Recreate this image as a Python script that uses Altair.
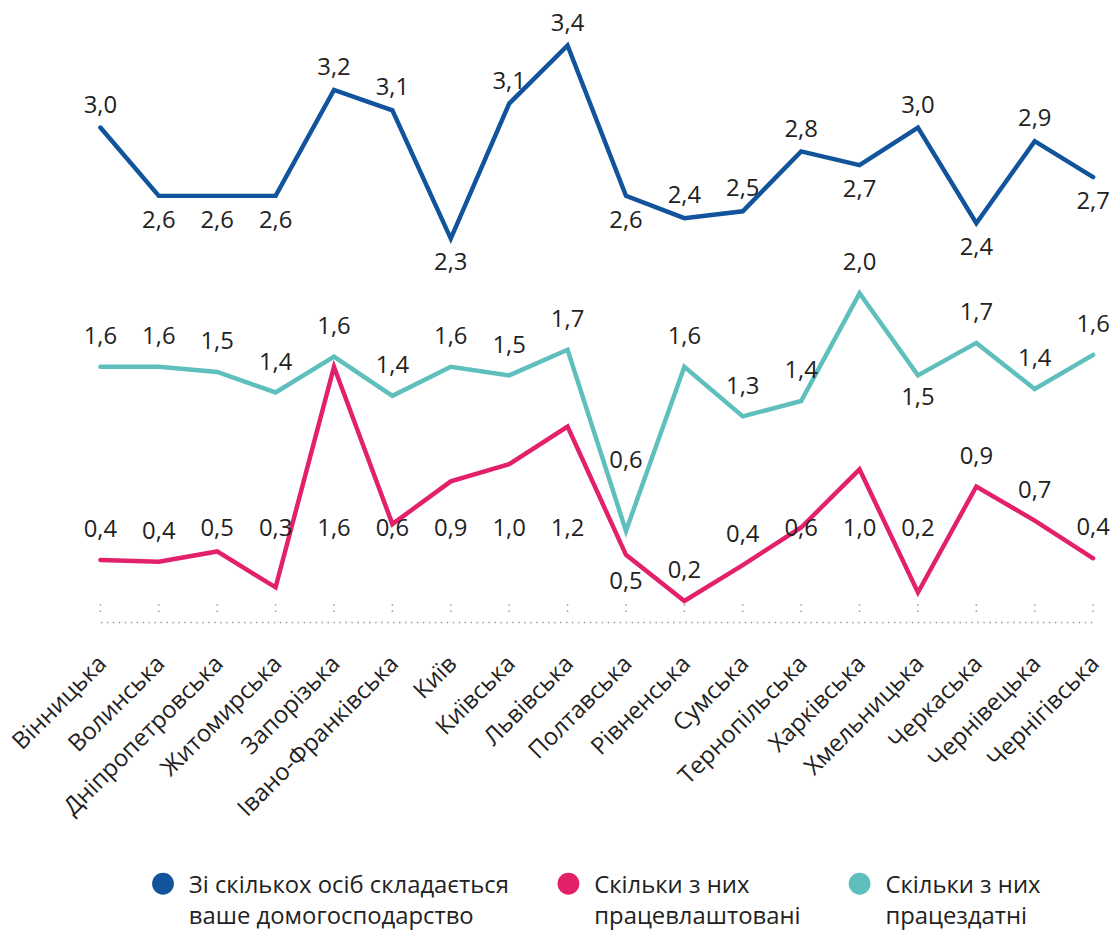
import altair as alt
import pandas as pd

regions = ["Вінницька", "Волинська", "Дніпропетровська", "Житомирська", "Запорізька",
           "Івано-Франківська", "Київ", "Київська", "Львівська", "Полтавська",
           "Рівненська", "Сумська", "Тернопільська", "Харківська", "Хмельницька",
           "Черкаська", "Чернівецька", "Чернігівська"]

series = ["Зі скількох осіб складається\nваше домогосподарство",
          "Скільки з них\nпрацевлаштовані",
          "Скільки з них\nпрацездатні"]
colors = ["#11549B", "#E3216B", "#5EBFBD"]

household = [2.96, 2.56, 2.56, 2.56, 3.18, 3.06, 2.31, 3.10, 3.44, 2.56,
             2.43, 2.47, 2.82, 2.74, 2.96, 2.40, 2.88, 2.67]
employed = [0.43, 0.42, 0.48, 0.27, 1.56, 0.64, 0.89, 0.99, 1.21, 0.46,
            0.19, 0.40, 0.62, 0.96, 0.24, 0.86, 0.66, 0.44]
able = [1.56, 1.56, 1.53, 1.41, 1.62, 1.39, 1.56, 1.51, 1.66, 0.60,
        1.56, 1.27, 1.36, 1.99, 1.51, 1.70, 1.43, 1.63]

# label placement: a = above, b = below, A = far above, r = on the shared label row
household_pos = ["a", "b", "b", "b", "a", "a", "b", "a", "a", "b",
                 "a", "a", "a", "b", "a", "b", "a", "b"]
employed_pos = ["a", "a", "r", "r", "r", "r", "r", "r", "r", "b",
                "a", "a", "r", "r", "r", "a", "a", "a"]
able_pos = ["a", "a", "a", "a", "a", "a", "a", "a", "a", "A",
            "a", "a", "a", "a", "b", "a", "a", "a"]

LABEL_OFFSETS = [
    {"a": -22, "b": 25},
    {"a": -30, "b": 27, "r": 0},
    {"a": -30, "b": 23, "A": -70},
]
LABEL_ROW = 0.61

rows = []
for si, (vals, poss) in enumerate([(household, household_pos),
                                   (employed, employed_pos),
                                   (able, able_pos)]):
    for i, (r, v, p) in enumerate(zip(regions, vals, poss)):
        rows.append({"region": r, "idx": i, "series": series[si], "value": v,
                     "label_y": LABEL_ROW if p == "r" else v,
                     "dy": LABEL_OFFSETS[si][p]})
df = pd.DataFrame(rows)

FONT = "Open Sans"
TXT = "#222222"
FS = 24
yscale = alt.Scale(domain=[0.067, 3.613], zero=False, nice=False)

xenc = alt.X("region:N", sort=regions,
             scale=alt.Scale(type="point", domain=regions, padding=0),
             axis=alt.Axis(title=None, labelAngle=-45, labelAlign="right",
                           labelBaseline="middle", labelFontSize=FS, labelFont=FONT,
                           labelColor=TXT, labelPadding=38, ticks=False, tickSize=0,
                           grid=False, labelOverlap=False, labelLimit=500,
                           domainColor="#9a9a9a", domainDash=[1.5, 4.5],
                           domainWidth=1.5, labelOffset=2))

ticks = alt.Chart(pd.DataFrame({"region": regions})).mark_rule(
    color="#9a9a9a", strokeWidth=1.5, strokeDash=[1.5, 5]
).encode(x=xenc, y=alt.value(592), y2=alt.value(605))

# stroke scale: data-driven domain (sorted order equals the series order)
lines = alt.Chart(df).mark_line(strokeWidth=4.5, strokeJoin="miter", strokeCap="round").encode(
    x=xenc,
    y=alt.Y("value:Q", scale=yscale, axis=None),
    stroke=alt.Stroke("series:N", scale=alt.Scale(range=colors), legend=None),
    order=alt.Order("idx:Q"),
)

texts = []
for d in sorted(df["dy"].unique()):
    texts.append(
        alt.Chart(df).transform_filter(f"datum.dy == {int(d)}").transform_calculate(
            txt="replace(format(datum.value, '.1f'), '.', ',')"
        ).mark_text(dy=int(d), fontSize=FS, font=FONT, color=TXT).encode(
            x=xenc,
            y=alt.Y("label_y:Q", scale=yscale, axis=None),
            text="txt:N",
        )
    )

shift = 0.85
circle_path = f"M-1,{shift}A1,1,0,1,1,1,{shift}A1,1,0,1,1,-1,{shift}Z"
legend_pts = alt.Chart(df).transform_filter("false").mark_point(filled=True, opacity=1).encode(
    x=xenc,
    y=alt.Y("value:Q", scale=yscale, axis=None),
    fill=alt.Fill("series:N", scale=alt.Scale(domain=series, range=colors), legend=alt.Legend(
        title=None, orient="none", legendX=51, legendY=852, direction="horizontal",
        labelExpr="split(datum.label, '\\n')", labelFontSize=24, labelFont=FONT,
        labelColor=TXT, symbolType=circle_path, symbolSize=484, symbolStrokeWidth=0,
        labelOffset=14, columnPadding=47, labelLimit=600, labelBaseline="top",
        padding=0, symbolOpacity=1)),
)

chart = alt.layer(ticks, lines, *texts, legend_pts).properties(
    width=999, height=610,
    autosize=alt.AutoSizeParams(type="none"),
    padding={"left": 93, "top": 5, "right": 19, "bottom": 307},
).configure(
    font=FONT, style={"guide-label": {"lineHeight": 31}},
    view=alt.ViewConfig(stroke=None),
)

chart.save("out.html", embed_options={"renderer": "svg", "actions": False})
